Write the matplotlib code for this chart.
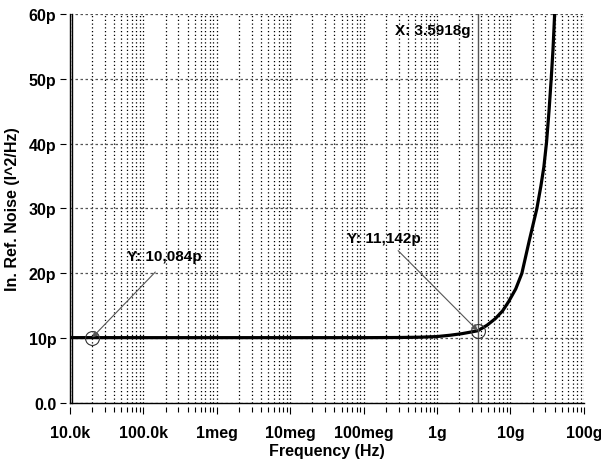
import matplotlib
matplotlib.use("Agg")
import matplotlib.pyplot as plt
from matplotlib.ticker import FixedLocator, LogLocator, NullFormatter

# input-referred noise, values in pA^2/Hz
freq_hz = [1e4, 2e4, 1e5, 1e6, 1e7, 1e8, 3e8, 6e8, 1e9, 1.5e9, 2.2e9, 3.5918e9,
           4.8e9, 6.2e9, 7.8e9, 9.4e9, 11.8e9, 14.3e9, 18e9, 22.9e9, 26e9,
           28.5e9, 31e9, 33.5e9, 35.9e9, 38e9, 39.8e9, 41e9]
noise_p = [10.08, 10.084, 10.08, 10.08, 10.08, 10.08, 10.1, 10.15, 10.25, 10.45,
           10.7, 11.142, 12.0, 13.0, 14.2, 15.6, 17.6, 20.0, 25.0, 30.0, 33.5,
           36.4, 40.2, 45.0, 50.0, 54.6, 59.5, 63.0]

x_ticks = [1e4, 1e5, 1e6, 1e7, 1e8, 1e9, 1e10, 1e11]
x_labels = ["10.0k", "100.0k", "1meg", "10meg", "100meg", "1g", "10g", "100g"]
y_ticks = [0, 10, 20, 30, 40, 50, 60]
y_labels = ["0.0", "10p", "20p", "30p", "40p", "50p", "60p"]

cursor_f = 3.5918e9
markers = [(2e4, 10.084, "Y: 10,084p", (1.95e5, 22.6), (1.45e5, 20.2)),
           (3.5918e9, 11.142, "Y: 11,142p", (1.9e8, 25.4), (2.95e8, 23.5))]

plt.rcParams["font.family"] = ["Liberation Sans", "DejaVu Sans"]
plt.rcParams["font.size"] = 11.5

fig = plt.figure(figsize=(6.01, 4.64), dpi=100)
ax = fig.add_axes([0.1165, 0.1293, 0.855, 0.8384])

ax.set_xscale("log")
ax.set_xlim(1e4, 1e11)
ax.set_ylim(0, 60)

# ticks sit a few pixels away from the axis lines
for side in ("top", "right"):
    ax.spines[side].set_visible(False)
for side in ("left", "bottom"):
    ax.spines[side].set_position(("outward", 3))
    ax.spines[side].set_color("none")
ax.axhline(0, color="black", linewidth=1.0, clip_on=False, zorder=3)
ax.plot([0, 0], [0, 1], transform=ax.transAxes, color="black",
        linewidth=1.0, clip_on=False)
ax.plot([0.0045, 0.0045], [0, 1], transform=ax.transAxes, color="black",
        linewidth=1.0, clip_on=False)

ax.xaxis.set_major_locator(FixedLocator(x_ticks))
ax.xaxis.set_minor_locator(LogLocator(base=10, subs=range(2, 10), numticks=20))
ax.xaxis.set_minor_formatter(NullFormatter())
ax.set_xticks(x_ticks)
ax.set_xticklabels(x_labels, fontweight="bold")
ax.set_yticks(y_ticks)
ax.set_yticklabels(y_labels, fontweight="bold")
ax.grid(True, which="both", axis="x", color="black", linestyle=(0, (1, 2)), linewidth=0.9)
ax.grid(True, which="major", axis="y", color="#555555", linestyle=(0, (2, 2)), linewidth=0.9)

ax.tick_params(axis="x", which="major", direction="out", length=5, width=0.8,
               pad=8, color="black")
ax.tick_params(axis="x", which="minor", direction="out", length=3.5, width=0.8,
               color="black")
ax.tick_params(axis="y", which="major", direction="out", length=4, width=0.8,
               pad=3, color="black")

ax.plot(freq_hz, noise_p, color="black", linewidth=2.3, solid_capstyle="butt")

# cursor
ax.axvline(cursor_f, color="#555555", linewidth=1.0)
ax.text(2.85e9, 57.6, "X: 3.5918g", ha="right", va="center", fontweight="bold",
        fontsize=11)

for fx, fy, label, txt_pos, arr_start in markers:
    ax.plot([fx], [fy], marker="o", markersize=10, markerfacecolor="none",
            markeredgecolor="#333333", markeredgewidth=0.8)
    ax.annotate("", xy=(fx, fy), xytext=arr_start,
                arrowprops=dict(arrowstyle="-|>", color="#555555", lw=0.8,
                                mutation_scale=9, shrinkA=0, shrinkB=0))
    ax.text(txt_pos[0], txt_pos[1], label, ha="center", va="center",
            fontweight="bold", fontsize=11)

ax.set_xlabel("Frequency (Hz)", fontweight="bold", labelpad=2)
ax.set_ylabel("In. Ref. Noise (I^2/Hz)", fontweight="bold", labelpad=6)

fig.savefig("out.png", dpi=100)
